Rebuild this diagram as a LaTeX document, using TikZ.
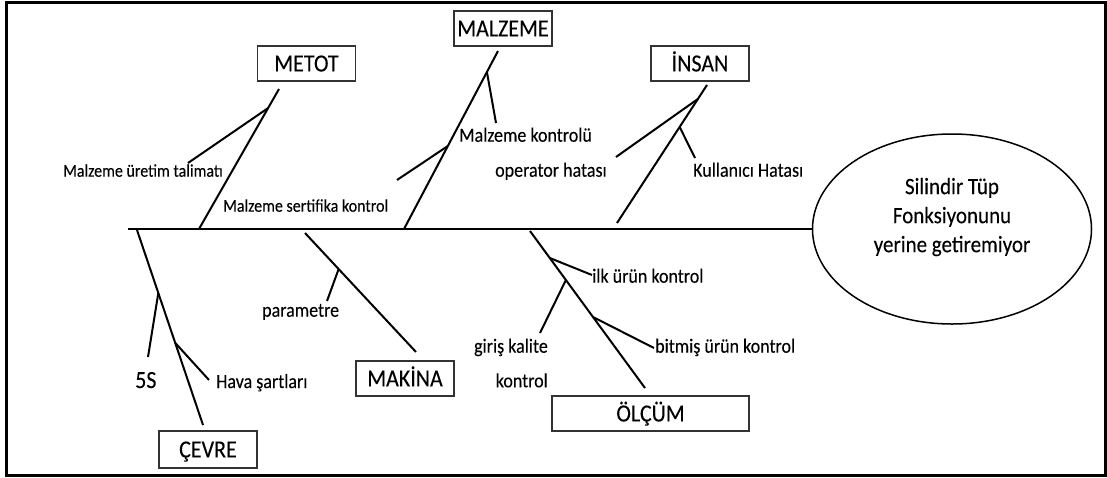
\documentclass[tikz,border=0pt]{standalone}
\usepackage{fontspec}
\setmainfont{Carlito}[FakeBold=0.12]
\usetikzlibrary{calc,shapes.geometric}
% slightly tall lettering
\newcommand\tallt[1]{\scalebox{1}[1.12]{#1}}

\begin{document}
\begin{tikzpicture}[x=1pt,y=-1pt,
  bone/.style={line width=2pt},
  spine/.style={line width=2.2pt},
  catbox/.style={draw=black!80, line width=1.2pt, inner sep=0pt,
    minimum width=98pt, minimum height=35pt,
    font=\fontsize{22}{26}\selectfont, text height=15.9pt, text depth=0pt},
  lbl/.style={inner sep=0pt, font=\fontsize{18}{22}\selectfont},
  lblsm/.style={inner sep=0pt, font=\fontsize{16}{20}\selectfont},
]
\useasboundingbox (0,0) rectangle (1107,477);
% frame
\draw[line width=3pt] (6,2) rectangle (1105,475);

% effect
\node[draw, ellipse, line width=1.5pt, minimum width=279pt, minimum height=190pt, inner sep=0pt] (goal) at (952,229) {};
\node[inner sep=0pt, align=center, font=\fontsize{21}{29}\selectfont] (goaltext) at (952,217)
  {\tallt{Silindir Tüp}\\\tallt{Fonksiyonunu}\\\tallt{yerine getiremiyor}};

% category boxes
\node[catbox] (metot) at (306.5,63.5) {\tallt{METOT}};
\node[catbox] (malzeme) at (503,28.5) {\tallt{MALZEME}};
\node[catbox] (insan) at (700,63.5) {\tallt{İNSAN}};
\node[catbox, minimum height=37pt] (cevre) at (208,449.5) {\tallt{ÇEVRE}};
\node[catbox] (makina) at (405,378.5) {\tallt{MAKİNA}};
\node[catbox, minimum width=197pt] (olcum) at (650.5,413.5) {\tallt{ÖLÇÜM}};

% spine
\coordinate (tail) at (128,229);
\draw[spine] (tail) -- (goal.west);

% main bones
\coordinate (mtB) at (199,229);  \coordinate (mtT) at (279,89);
\coordinate (mzB) at (404,229);  \coordinate (mzT) at (498,51);
\coordinate (inB) at (617,223);  \coordinate (inT) at (707,85);
\coordinate (cvT) at (137,230);  \coordinate (cvB) at (203,425);
\coordinate (mkT) at (305,233);  \coordinate (mkB) at (416,352);
\coordinate (olT) at (530,231);  \coordinate (olB) at (645,388);
\foreach \a/\b in {mtB/mtT, mzB/mzT, inB/inT, cvT/cvB, mkT/mkB, olT/olB}
  \draw[bone] (\a) -- (\b);

% junctions on the bones
\coordinate (mtJ) at ($(mtB)!0.864!(mtT)$);
\coordinate (mzJa) at ($(mzB)!0.882!(mzT)$);
\coordinate (mzJb) at ($(mzB)!0.466!(mzT)$);
\coordinate (inJa) at ($(inB)!0.899!(inT)$);
\coordinate (inJb) at ($(inB)!0.696!(inT)$);
\coordinate (cvJa) at ($(cvT)!0.323!(cvB)$);
\coordinate (cvJb) at ($(cvT)!0.579!(cvB)$);
\coordinate (mkJ) at ($(mkT)!0.303!(mkB)$);
\coordinate (olJa) at ($(olT)!0.172!(olB)$);
\coordinate (olJb) at ($(olT)!0.312!(olB)$);
\coordinate (olJc) at ($(olT)!0.548!(olB)$);

% free ends of the small bones
\coordinate (mtE) at (188,163);
\coordinate (mzEa) at (496,123);
\coordinate (mzEb) at (397,180);
\coordinate (inEa) at (616,157);
\coordinate (inEb) at (695,158);
\coordinate (cvEa) at (148,357);
\coordinate (cvEb) at (209,380);
\coordinate (mkE) at (327,301);
\coordinate (olEa) at (592,275);
\coordinate (olEb) at (540,333);
\coordinate (olEc) at (654,348);
\foreach \a/\b in {mtJ/mtE, mzJa/mzEa, mzJb/mzEb, inJa/inEa, inJb/inEb,
                   cvJa/cvEa, cvJb/cvEb, mkJ/mkE, olJa/olEa, olJb/olEb, olJc/olEc}
  \draw[bone] (\a) -- (\b);

% cause labels
\node[lblsm, anchor=base west] (uretim) at (63,176.7) {\tallt{Malzeme üretim talimatı}};
\node[lblsm, anchor=base west] (sertifika) at (223,211.7) {\tallt{Malzeme sertifika kontrol}};
\node[lbl, anchor=base west] (mkontrol) at (459,141.7) {\tallt{Malzeme kontrolü}};
\node[lbl, anchor=base west] (operator) at (495,176.7) {\tallt{operator hatası}};
\node[lbl, anchor=base west] (kullanici) at (693,176.7) {\tallt{Kullanıcı Hatası}};
\node[inner sep=0pt, font=\fontsize{22}{25}\selectfont, anchor=base west] (fives) at (135,388) {\tallt{5S}};
\node[lbl, anchor=base west] (hava) at (216,388) {\tallt{Hava şartları}};
\node[lbl, anchor=base west] (parametre) at (262,316.7) {\tallt{parametre}};
\node[lbl, anchor=base west] (ilk) at (592,282.7) {\tallt{ilk ürün kontrol}};
\node[lbl, anchor=base east] (giris) at (548,352.7) {\tallt{giriş kalite}};
\node[lbl, anchor=base east] (giris2) at (548,387.3) {\tallt{kontrol}};
\node[lbl, anchor=base west] (bitmis) at (655,352.7) {\tallt{bitmiş ürün kontrol}};
\end{tikzpicture}
\end{document}
